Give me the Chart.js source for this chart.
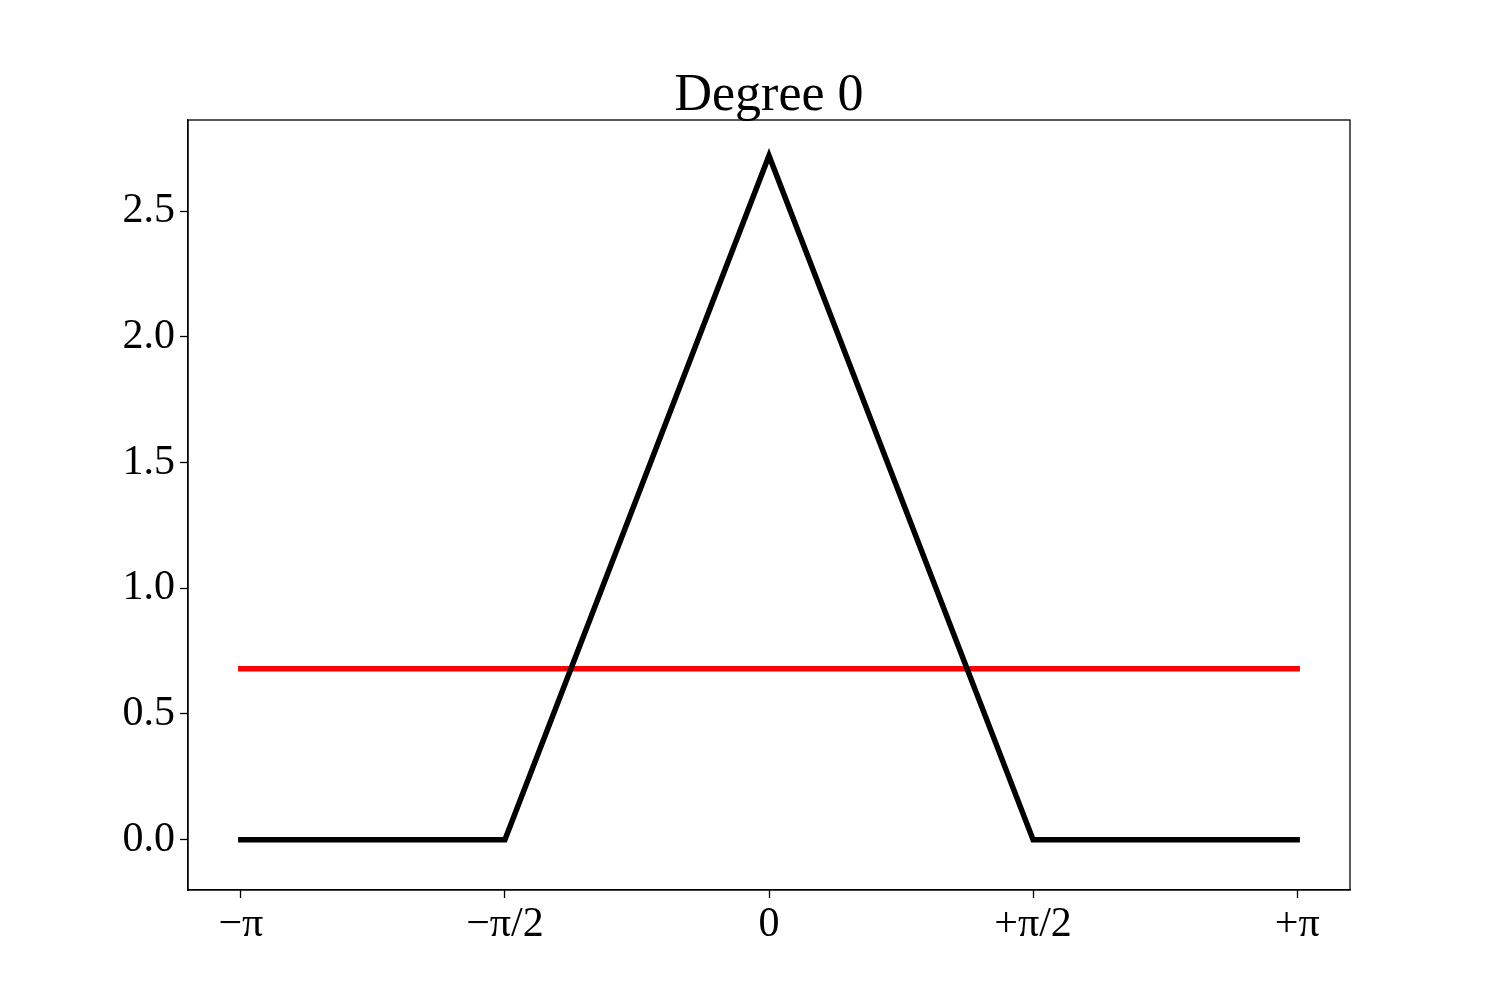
<!DOCTYPE html>
<html>
<head>
<meta charset="utf-8">
<script src="https://cdn.jsdelivr.net/npm/chart.js@4"></script>
<style>
  html, body { margin: 0; padding: 0; background: #fff; }
  canvas { display: block; }
</style>
</head>
<body>
<canvas id="degreeChart" width="1500" height="1000"></canvas>
<script>
// curve: triangle peak at 0, flat mean line
const triX = [-3.1416, -1.5708, 0, 1.5708, 3.1416];
const triY = [0, 0, 2.72, 0, 0];
const meanX = [-3.1416, 3.1416];
const meanY = [0.68, 0.68];

const xTickValues = [-3.1416, -1.5708, 0, 1.5708, 3.1416];
const xTickLabels = ["\u2212\u03c0", "\u2212\u03c0/2", "0", "+\u03c0/2", "+\u03c0"];
const yTickValues = [0, 0.5, 1.0, 1.5, 2.0, 2.5];
const titleText = "Degree 0";

const serif = "'Liberation Serif', 'DejaVu Serif', serif";

// matplotlib style box round the plot area, title centred over it
const frame = {
  id: "frame",
  afterDraw(chart) {
    const a = chart.chartArea;
    const c = chart.ctx;
    c.save();
    c.strokeStyle = "#000";
    c.lineWidth = 1.3;
    c.strokeRect(a.left, a.top, a.right - a.left, a.bottom - a.top);
    c.fillStyle = "#000";
    c.font = "52px " + serif;
    c.textAlign = "center";
    c.textBaseline = "alphabetic";
    c.fillText(titleText, (a.left + a.right) / 2, a.top - 10);
    c.restore();
  }
};

document.addEventListener("DOMContentLoaded", function () {
  const ctx = document.getElementById("degreeChart").getContext("2d");
  new Chart(ctx, {
    type: "line",
    data: {
      datasets: [
        {
          label: "f",
          data: triX.map((x, i) => ({ x: x, y: triY[i] })),
          borderColor: "#000000",
          borderWidth: 5.5,
          borderCapStyle: "square",
          pointRadius: 0,
          tension: 0
        },
        {
          label: "mean",
          data: meanX.map((x, i) => ({ x: x, y: meanY[i] })),
          borderColor: "#ff0000",
          borderWidth: 5.5,
          borderCapStyle: "square",
          pointRadius: 0,
          tension: 0
        }
      ]
    },
    options: {
      responsive: false,
      animation: false,
      devicePixelRatio: 1,
      layout: { padding: { top: 120, right: 150, bottom: 0, left: 0 } },
      plugins: {
        legend: { display: false },
        tooltip: { enabled: false },
        title: { display: false }
      },
      scales: {
        x: {
          type: "linear",
          min: -3.4558,
          max: 3.4558,
          afterBuildTicks: (s) => { s.ticks = xTickValues.map(v => ({ value: v })); },
          afterFit: (s) => { s.height = 110; },
          ticks: {
            color: "#000",
            font: { family: serif, size: 42 },
            padding: 2,
            maxRotation: 0,
            callback: (v, i) => xTickLabels[i]
          },
          grid: { drawOnChartArea: false, tickLength: 8, color: "#000", tickWidth: 1.3 },
          border: { color: "#000", width: 1.3 }
        },
        y: {
          min: -0.2,
          max: 2.862,
          afterBuildTicks: (s) => { s.ticks = yTickValues.map(v => ({ value: v })); },
          afterFit: (s) => { s.width = 188; },
          ticks: {
            color: "#000",
            font: { family: serif, size: 42 },
            padding: 5,
            callback: (v) => v.toFixed(1)
          },
          grid: { drawOnChartArea: false, tickLength: 8, color: "#000", tickWidth: 1.3 },
          border: { color: "#000", width: 1.3 }
        }
      }
    },
    plugins: [frame]
  });
});
</script>
</body>
</html>
